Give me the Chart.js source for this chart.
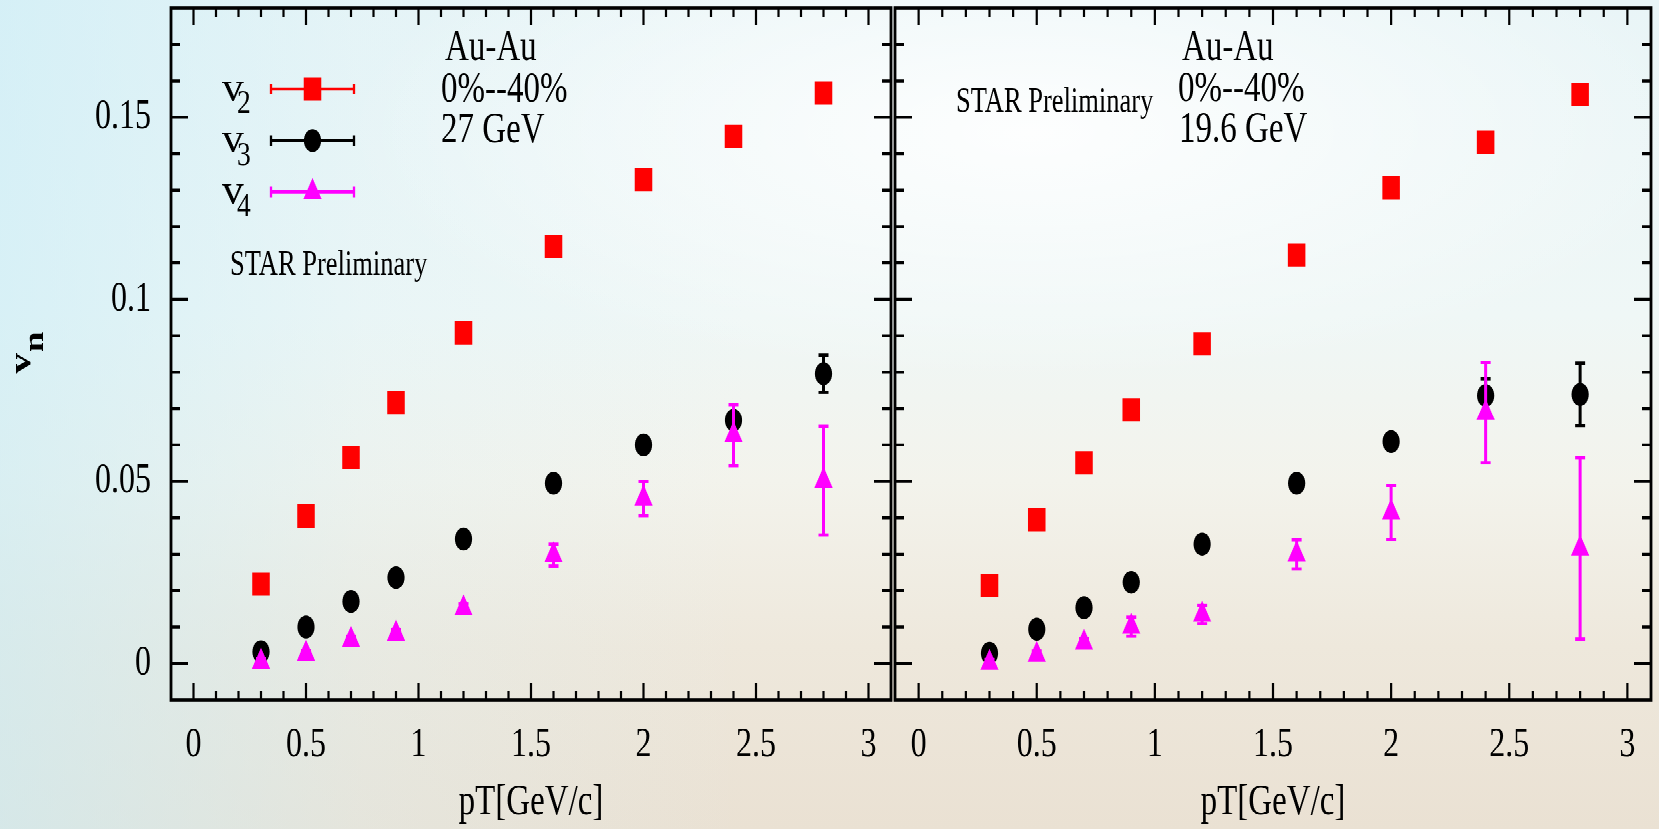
<!DOCTYPE html>
<html>
<head>
<meta charset="utf-8">
<title>vn vs pT, Au-Au 0%-40%, 27 and 19.6 GeV</title>
<script src="https://cdn.jsdelivr.net/npm/chart.js@4.4.1/dist/chart.umd.min.js"></script>
<style>
    html, body { margin: 0; padding: 0; }
    body {
        width: 1659px;
        height: 829px;
        overflow: hidden;
        position: relative;
        background:
            radial-gradient(ellipse 55% 40% at 62% 16%, rgba(255,255,255,0.9), rgba(255,255,255,0) 75%),
            linear-gradient(90deg, rgba(200,236,246,0.6) 0%, rgba(215,240,246,0.25) 22%, rgba(255,255,255,0) 45%),
            linear-gradient(180deg, #e9f5f7 0%, #eff7f6 38%, #f3f3ec 58%, #eee8dc 78%, #eae1d3 100%);
    }
    /* the source figure is stretched vertically, so the charts are drawn at 623px and scaled up */
    #stage {
        position: absolute;
        left: 0;
        top: 0;
        width: 1659px;
        height: 623px;
        transform: scaleY(1.33066);
        transform-origin: 0 0;
    }
    #chart-27 { position: absolute; left: 0; top: 0; }
    #chart-19 { position: absolute; left: 890px; top: 0; }
</style>
</head>
<body>
<div id="stage">
    <canvas id="chart-27" width="896" height="623"></canvas>
    <canvas id="chart-19" width="769" height="623"></canvas>
</div>
<script>
const ptBins = [0.3, 0.5, 0.7, 0.9, 1.2, 1.6, 2.0, 2.4, 2.8];

// Au-Au 27 GeV
const v2_27 = [0.0218, 0.0405, 0.0566, 0.0717, 0.0908, 0.1145, 0.1329, 0.1447, 0.1566];
const v2err_27 = [0.0005, 0.0005, 0.0006, 0.0006, 0.0007, 0.0008, 0.0010, 0.0012, 0.0015];
const v3_27 = [0.0032, 0.0100, 0.0170, 0.0236, 0.0342, 0.0495, 0.0600, 0.0668, 0.0796];
const v3err_27 = [0.0006, 0.0007, 0.0007, 0.0008, 0.0009, 0.0012, 0.0016, 0.0022, 0.0051];
const v4_27 = [0.0005, 0.0027, 0.0065, 0.0082, 0.0151, 0.0298, 0.0453, 0.0627, 0.0502];
const v4err_27 = [0.0008, 0.0009, 0.0010, 0.0011, 0.0013, 0.0030, 0.0047, 0.0084, 0.0149];

// Au-Au 19.6 GeV
const v2_19 = [0.0214, 0.0395, 0.0551, 0.0697, 0.0878, 0.1122, 0.1307, 0.1431, 0.1562];
const v2err_19 = [0.0005, 0.0006, 0.0006, 0.0007, 0.0008, 0.0010, 0.0012, 0.0014, 0.0018];
const v3_19 = [0.0028, 0.0094, 0.0153, 0.0223, 0.0328, 0.0495, 0.0609, 0.0736, 0.0739];
const v3err_19 = [0.0006, 0.0007, 0.0008, 0.0009, 0.0011, 0.0015, 0.0020, 0.0046, 0.0086];
const v4_19 = [0.0002, 0.0024, 0.0057, 0.0101, 0.0134, 0.0300, 0.0415, 0.0689, 0.0316];
const v4err_19 = [0.0009, 0.0010, 0.0012, 0.0026, 0.0025, 0.0040, 0.0074, 0.0138, 0.0249];

const xTickValues = [0, 0.5, 1, 1.5, 2, 2.5, 3];
const xTickLabels = ['0', '0.5', '1', '1.5', '2', '2.5', '3'];
const yTickValues = [0, 0.05, 0.1, 0.15];
const yTickLabels = ['0', '0.05', '0.1', '0.15'];

const FONT = "'Liberation Serif', 'Times New Roman', serif";
const RED = '#ff0000';
const BLACK = '#000000';
const MAGENTA = '#ff00ff';

function points(values) {
    return values.map((v, i) => ({x: ptBins[i], y: v}));
}

function series(label, values, errors, color, style, radius, order) {
    return {
        label: label,
        data: points(values),
        errors: errors,
        backgroundColor: color,
        borderColor: color,
        borderWidth: 0,
        pointStyle: style,
        pointRadius: radius,
        pointHoverRadius: radius,
        pointBorderWidth: 0,
        showLine: false,
        order: order
    };
}

function drawText(ctx, n) {
    ctx.save();
    ctx.font = `${n.bold ? 'bold ' : ''}${n.size}px ${FONT}`;
    ctx.fillStyle = '#000';
    ctx.textAlign = n.align || 'left';
    ctx.textBaseline = 'alphabetic';
    ctx.translate(n.x, n.y);
    if (n.rotate) ctx.rotate(n.rotate);
    if (n.sx) ctx.scale(n.sx, 1);
    ctx.fillText(n.text, 0, 0);
    ctx.restore();
}

// scales must not push the frame around: the pad geometry is fixed
function noScalePadding(s) {
    s.paddingTop = 0;
    s.paddingBottom = 0;
    s.paddingLeft = 0;
    s.paddingRight = 0;
}

// box around the pad with inward ticks on all four sides
const framePlugin = {
    id: 'frame',
    beforeDatasetsDraw(chart) {
        const {ctx, chartArea: a, scales: {x, y}} = chart;
        ctx.save();
        ctx.strokeStyle = '#000';
        ctx.lineWidth = 2.2;
        ctx.beginPath();
        for (let i = 0; i <= 31; i++) {
            const px = x.getPixelForValue(i / 10);
            if (px > a.right - 1) continue;
            const len = i % 5 === 0 ? 12.5 : 7;
            ctx.moveTo(px, a.bottom);
            ctx.lineTo(px, a.bottom - len);
            ctx.moveTo(px, a.top);
            ctx.lineTo(px, a.top + len);
        }
        for (let i = 0; i <= 18; i++) {
            const py = y.getPixelForValue(i / 100);
            if (py < a.top + 1) continue;
            const len = i % 5 === 0 ? 17 : 9;
            ctx.moveTo(a.left, py);
            ctx.lineTo(a.left + len, py);
            ctx.moveTo(a.right, py);
            ctx.lineTo(a.right - len, py);
        }
        ctx.stroke();
        ctx.lineWidth = 2.8;
        ctx.strokeRect(a.left, a.top, a.right - a.left, a.bottom - a.top);
        ctx.restore();
    }
};

// vertical error bars, drawn just before each dataset's markers
const errorBarPlugin = {
    id: 'errorBars',
    beforeDatasetDraw(chart, args) {
        const ds = chart.data.datasets[args.index];
        if (!ds.errors) return;
        const {ctx, scales: {x, y}} = chart;
        ctx.save();
        ctx.strokeStyle = ds.backgroundColor;
        ctx.fillStyle = ds.backgroundColor;
        ctx.lineWidth = 3;
        ds.data.forEach((p, i) => {
            const e = ds.errors[i];
            const px = x.getPixelForValue(p.x);
            const top = y.getPixelForValue(p.y + e);
            const bottom = y.getPixelForValue(p.y - e);
            ctx.beginPath();
            ctx.moveTo(px, top);
            ctx.lineTo(px, bottom);
            ctx.stroke();
            ctx.fillRect(px - 5, top - 1.2, 10, 2.4);
            ctx.fillRect(px - 5, bottom - 1.2, 10, 2.4);
        });
        ctx.restore();
    }
};

function notesPlugin(notes) {
    return {
        id: 'notes',
        afterDraw(chart) {
            const a = chart.chartArea;
            notes.forEach(n => {
                const x = n.x === 'mid' ? (a.left + a.right) / 2 : n.x;
                drawText(chart.ctx, Object.assign({}, n, {x: x}));
            });
        }
    };
}

const legendRows = [
    {index: 0, sub: '2', y: 67},
    {index: 1, sub: '3', y: 105.7},
    {index: 2, sub: '4', y: 144.2}
];

const legendPlugin = {
    id: 'errLegend',
    afterDraw(chart) {
        const ctx = chart.ctx;
        legendRows.forEach(row => {
            const ds = chart.data.datasets[row.index];
            drawText(ctx, {text: 'v', x: 222, y: row.y + 8.3, size: 31, sx: 1.4});
            drawText(ctx, {text: row.sub, x: 237, y: row.y + 18.2, size: 25, sx: 1.1});
            ctx.save();
            ctx.strokeStyle = ds.backgroundColor;
            ctx.fillStyle = ds.backgroundColor;
            ctx.lineWidth = 2.3;
            ctx.beginPath();
            ctx.moveTo(270, row.y);
            ctx.lineTo(355, row.y);
            ctx.moveTo(271, row.y - 4);
            ctx.lineTo(271, row.y + 4);
            ctx.moveTo(354, row.y - 4);
            ctx.lineTo(354, row.y + 4);
            ctx.stroke();
            Chart.helpers.drawPoint(ctx, {
                pointStyle: ds.pointStyle,
                radius: ds.pointRadius,
                rotation: 0,
                borderWidth: 0
            }, 312.5, row.y);
            ctx.restore();
        });
    }
};

function panelConfig(datasets, opts) {
    return {
        type: 'scatter',
        data: {datasets: datasets},
        options: {
            responsive: false,
            animation: false,
            devicePixelRatio: 2,
            events: [],
            layout: {padding: opts.padding, autoPadding: false},
            plugins: {
                legend: {display: false},
                tooltip: {enabled: false}
            },
            scales: {
                x: {
                    type: 'linear',
                    min: -0.1,
                    max: 3.1,
                    grid: {display: false},
                    border: {display: false},
                    afterBuildTicks: s => { s.ticks = xTickValues.map(v => ({value: v})); },
                    afterFit: s => { s.height = 97; noScalePadding(s); },
                    ticks: {
                        autoSkip: false,
                        maxRotation: 0,
                        padding: 7,
                        color: '#000',
                        font: {family: FONT, size: 32},
                        callback: v => xTickLabels[xTickValues.indexOf(v)]
                    }
                },
                y: {
                    type: 'linear',
                    min: -0.01,
                    max: 0.18,
                    grid: {display: false},
                    border: {display: false},
                    afterBuildTicks: s => { s.ticks = yTickValues.map(v => ({value: v})); },
                    afterFit: s => { s.width = opts.yWidth; noScalePadding(s); },
                    ticks: {
                        display: opts.showY,
                        autoSkip: false,
                        padding: 12,
                        color: '#000',
                        font: {family: FONT, size: 32},
                        callback: v => yTickLabels[yTickValues.indexOf(v)]
                    }
                }
            }
        },
        plugins: opts.plugins
    };
}

const notes27 = [
    {text: 'Au-Au', x: 445, y: 45.1, size: 33},
    {text: '0%--40%', x: 441, y: 76.6, size: 33},
    {text: '27 GeV', x: 441, y: 106.8, size: 33},
    {text: 'STAR Preliminary', x: 230, y: 206.7, size: 26.5},
    {text: 'pT[GeV/c]', x: 'mid', y: 612, size: 33, align: 'center'},
    {text: 'v', x: 30, y: 273, size: 31, bold: true, align: 'center', rotate: -Math.PI / 2},
    {text: 'n', x: 43, y: 257, size: 28, bold: true, align: 'center', rotate: -Math.PI / 2}
];

const notes19 = [
    {text: 'Au-Au', x: 292, y: 45.1, size: 33},
    {text: '0%--40%', x: 288, y: 76.0, size: 33},
    {text: '19.6 GeV', x: 289, y: 106.5, size: 33},
    {text: 'STAR Preliminary', x: 66, y: 84, size: 26.5},
    {text: 'pT[GeV/c]', x: 'mid', y: 612, size: 33, align: 'center'}
];

new Chart(document.getElementById('chart-27'), panelConfig([
    series('v2', v2_27, v2err_27, RED, 'rect', 12.4, 3),
    series('v3', v3_27, v3err_27, BLACK, 'circle', 8.6, 2),
    series('v4', v4_27, v4err_27, MAGENTA, 'triangle', 10.5, 1)
], {
    padding: {left: 0, top: 6, right: 5, bottom: 0},
    yWidth: 171,
    showY: true,
    plugins: [framePlugin, errorBarPlugin, notesPlugin(notes27), legendPlugin]
}));

new Chart(document.getElementById('chart-19'), panelConfig([
    series('v2', v2_19, v2err_19, RED, 'rect', 12.4, 3),
    series('v3', v3_19, v3err_19, BLACK, 'circle', 8.6, 2),
    series('v4', v4_19, v4err_19, MAGENTA, 'triangle', 10.5, 1)
], {
    padding: {left: 0, top: 6, right: 8, bottom: 0},
    yWidth: 5,
    showY: false,
    plugins: [framePlugin, errorBarPlugin, notesPlugin(notes19)]
}));
</script>
</body>
</html>
